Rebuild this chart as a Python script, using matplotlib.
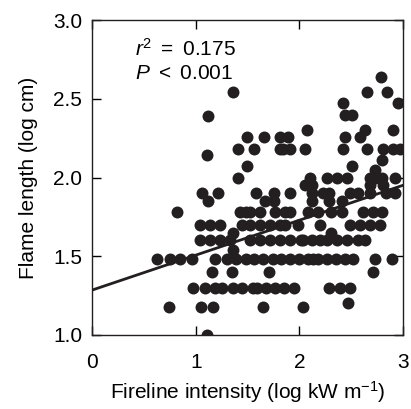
import matplotlib as mpl
mpl.use('Agg')
import matplotlib.pyplot as plt
import numpy as np

plt.rcParams['font.family'] = ['Liberation Sans', 'DejaVu Sans']
plt.rcParams['mathtext.fontset'] = 'custom'
plt.rcParams['mathtext.rm'] = 'Liberation Sans'
plt.rcParams['mathtext.it'] = 'Liberation Sans:italic'

# flame length levels (log cm) and fireline intensity values
rows = {
    1.00: [1.11],
    1.18: [0.74, 1.05, 1.17, 1.65, 2.03],
    1.20: [2.47],
    1.30: [0.97, 1.09, 1.19, 1.25, 1.36, 1.45, 1.55, 1.59, 1.68, 1.76, 1.85, 1.95,
           2.28, 2.39, 2.49],
    1.40: [1.16, 1.35, 1.71, 2.71],
    1.48: [0.63, 0.75, 0.85, 0.96, 1.19, 1.30, 1.39, 1.48, 1.56, 1.65, 1.74, 1.82,
           1.91, 2.00, 2.08, 2.13, 2.18, 2.27, 2.35, 2.44, 2.52, 2.73, 2.89],
    1.54: [1.36],
    1.60: [1.04, 1.14, 1.23, 1.33, 1.52, 1.62, 1.72, 1.81, 1.91, 2.01, 2.03, 2.12,
           2.20, 2.27, 2.36, 2.46, 2.56, 2.63],
    1.65: [1.36, 2.30],
    1.70: [1.04, 1.14, 1.23, 1.45, 1.52, 1.62, 1.72, 1.81, 1.86, 1.99, 2.20, 2.49,
           2.58, 2.68, 2.78],
    1.78: [0.82, 1.43, 1.48, 1.52, 1.62, 1.76, 1.86, 1.91, 2.08, 2.18, 2.30, 2.41,
           2.61, 2.71, 2.80],
    1.85: [1.12, 1.67, 1.75, 2.12, 2.28, 2.41],
    1.90: [1.06, 1.21, 1.58, 1.75, 1.91, 2.12, 2.23, 2.28, 2.49, 2.56, 2.68, 2.83,
           2.92],
    1.95: [2.05, 2.12, 2.68, 2.81],
    2.00: [1.41, 2.10, 2.27, 2.36, 2.46, 2.68, 2.73, 2.80, 2.92],
    2.05: [2.73],
    2.07: [1.49, 2.51],
    2.11: [2.80],
    2.14: [1.11],
    2.18: [1.41, 1.56, 1.81, 1.84, 1.91, 2.05, 2.42, 2.65, 2.81, 2.90, 2.97],
    2.26: [1.49, 1.66, 1.81, 1.89, 2.44, 2.58],
    2.30: [2.07, 2.63, 2.90],
    2.39: [1.12],
    2.40: [2.44, 2.51],
    2.47: [2.42, 2.95],
    2.54: [1.36, 2.65, 2.84],
    2.64: [2.79],
}

intensity = np.concatenate([np.array(v) for v in rows.values()])
flame = np.concatenate([np.full(len(v), k) for k, v in rows.items()])

# regression line
intercept = 1.285
slope = 0.222
r2_text = r'$r^2\ =\ 0.175$'
p_text = r'$P\ <\ 0.001$'

fs = 15

fig = plt.figure(figsize=(4.11, 4.09), dpi=100)
ax = fig.add_axes([0.224, 0.181, 0.757, 0.770])

ax.scatter(intensity, flame, s=74, color='#231f20', linewidths=0, zorder=3)
xl = np.array([0, 3])
ax.plot(xl, intercept + slope * xl, color='#231f20', lw=2, zorder=4)

ax.set_xlim(0, 3)
ax.set_ylim(1.0, 3.0)
ax.set_xticks([0, 1, 2, 3])
ax.set_yticks([1.0, 1.5, 2.0, 2.5, 3.0])
ax.set_yticklabels(['1.0', '1.5', '2.0', '2.5', '3.0'])
ax.tick_params(direction='in', length=6.5, width=1, labelsize=fs,
               top=True, right=True)
ax.tick_params(axis='x', pad=13)
ax.tick_params(axis='y', pad=7)
for s in ax.spines.values():
    s.set_linewidth(1)
    s.set_color('#231f20')

ax.set_xlabel(r'Fireline intensity (log kW m$^{-1}$)', fontsize=fs, labelpad=5)
ax.set_ylabel('Flame length (log cm)', fontsize=fs, labelpad=11)

ax.text(0.41, 2.82, r2_text, fontsize=fs, va='center', ha='left')
ax.text(0.41, 2.66, p_text, fontsize=fs, va='center', ha='left')

plt.savefig('out.png', dpi=100)
